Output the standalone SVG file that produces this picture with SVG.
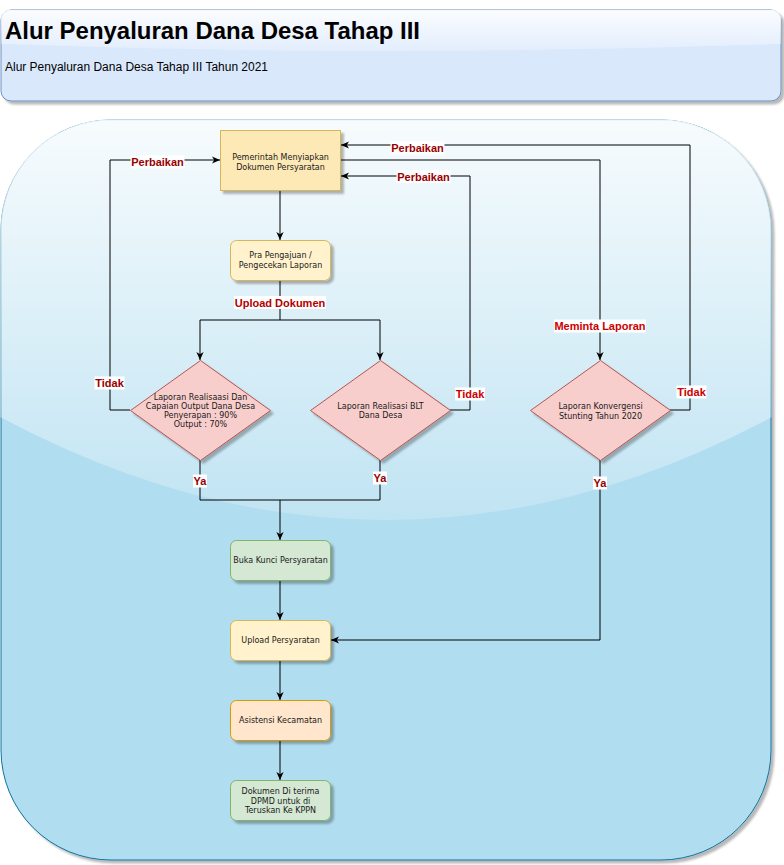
<svg xmlns="http://www.w3.org/2000/svg" width="784" height="865" viewBox="0 0 784 865">
  <defs>
    <filter id="shadow" x="-10%" y="-10%" width="130%" height="130%">
      <feDropShadow dx="3" dy="3" stdDeviation="1.2" flood-color="#000" flood-opacity="0.28"/>
    </filter>
    <linearGradient id="glassBig" x1="0" y1="120" x2="0" y2="520" gradientUnits="userSpaceOnUse">
      <stop offset="0" stop-color="#fff" stop-opacity="0.9"/>
      <stop offset="1" stop-color="#fff" stop-opacity="0.2"/>
    </linearGradient>
    <linearGradient id="glassHead" x1="0" y1="10" x2="0" y2="50" gradientUnits="userSpaceOnUse">
      <stop offset="0" stop-color="#fff" stop-opacity="0.9"/>
      <stop offset="1" stop-color="#fff" stop-opacity="0.25"/>
    </linearGradient>
    <clipPath id="clipBig">
      <rect x="0.5" y="119.5" width="771" height="741" rx="110.5"/>
    </clipPath>
    <clipPath id="clipHead">
      <rect x="0.5" y="9.5" width="781" height="92" rx="10.5"/>
    </clipPath>
    <marker id="arrow" viewBox="0 0 8 8" markerWidth="8" markerHeight="8" refX="8" refY="4" orient="auto" markerUnits="userSpaceOnUse">
      <path d="M0,0.4 L8,4 L0,7.6 L2.2,4 Z" fill="#000"/>
    </marker>
    <style>
      .node text { font-family: "DejaVu Sans", Verdana, sans-serif; font-size: 8px; fill: #1a1a1a; text-anchor: middle; }
      .yellow { fill: #fff2cc; stroke: #d6b656; stroke-width: 1; }
      .yellowDeep { fill: #fde9b6; stroke: #d6b656; stroke-width: 1; }
      .green { fill: #d5e8d4; stroke: #82b366; stroke-width: 1; }
      .orange { fill: #ffe6cc; stroke: #d79b00; stroke-width: 1; }
      .red { fill: #f8cecc; stroke: #b85450; stroke-width: 1; }
      .edge { fill: none; stroke: #000; stroke-width: 1; }
      .lbl rect { fill: #fff; }
      .lbl text { font-family: "Liberation Sans", Arial, sans-serif; font-size: 11px; font-weight: bold; text-anchor: middle; }
      .dark { fill: #990000; }
      .mid { fill: #b20000; }
      .bright { fill: #cc0000; }
    </style>
  </defs>

  <!-- page header -->
  <g id="header">
    <rect x="1" y="10" width="780" height="91" rx="10" fill="#dae8fc" stroke="#6c8ebf" filter="url(#shadow)"/>
    <path d="M1,10 H781 V44 Q391,58 1,44 Z" fill="url(#glassHead)" clip-path="url(#clipHead)"/>
    <text x="5" y="39" font-family="'Liberation Sans', Arial, sans-serif" font-size="24" font-weight="bold" fill="#000" textLength="415" lengthAdjust="spacingAndGlyphs">Alur Penyaluran Dana Desa Tahap III</text>
    <text x="5" y="71" font-family="'Liberation Sans', Arial, sans-serif" font-size="12" fill="#000" textLength="263" lengthAdjust="spacingAndGlyphs">Alur Penyaluran Dana Desa Tahap III Tahun 2021</text>
  </g>

  <!-- swimlane background -->
  <g id="container">
    <rect x="1" y="120" width="770" height="740" rx="110" fill="#b1ddf0" stroke="#10739e" filter="url(#shadow)"/>
    <path d="M0,110 H772 V417 Q386,623 0,417 Z" fill="url(#glassBig)" clip-path="url(#clipBig)"/>
  </g>

  <!-- connectors -->
  <g id="connectors">
    <path class="edge" d="M280,190 V240" marker-end="url(#arrow)"/>
    <path class="edge" d="M280,280 V320 H200 V360" marker-end="url(#arrow)"/>
    <path class="edge" d="M280,320 H380 V360" marker-end="url(#arrow)"/>
    <path class="edge" d="M130,410 H110 V160 H220" marker-end="url(#arrow)"/>
    <path class="edge" d="M450,410 H470 V176 H341" marker-end="url(#arrow)"/>
    <path class="edge" d="M341,160 H600 V360" marker-end="url(#arrow)"/>
    <path class="edge" d="M670,410 H690 V145 H341" marker-end="url(#arrow)"/>
    <path class="edge" d="M200,460 V500 H280 V540" marker-end="url(#arrow)"/>
    <path class="edge" d="M380,460 V500 H280"/>
    <path class="edge" d="M600,460 V640 H331" marker-end="url(#arrow)"/>
    <path class="edge" d="M280,580 V620" marker-end="url(#arrow)"/>
    <path class="edge" d="M280,660 V700" marker-end="url(#arrow)"/>
    <path class="edge" d="M280,740 V780" marker-end="url(#arrow)"/>

    <!-- connector labels -->
    <g class="lbl">
      <rect x="130.5" y="155.5" width="54" height="13"/>
      <text class="dark" x="157.5" y="166">Perbaikan</text>
      <rect x="94.5" y="376.5" width="30" height="13"/>
      <text class="dark" x="109.5" y="387">Tidak</text>
      <rect x="234" y="296" width="92" height="13"/>
      <text class="mid" x="280" y="306.5">Upload Dokumen</text>
      <rect x="396.5" y="170" width="54" height="13"/>
      <text class="dark" x="423.5" y="180.5">Perbaikan</text>
      <rect x="455" y="387.5" width="30" height="13"/>
      <text class="bright" x="470" y="398">Tidak</text>
      <rect x="390.5" y="141.5" width="54" height="13"/>
      <text class="dark" x="417.5" y="152">Perbaikan</text>
      <rect x="554" y="319.5" width="92" height="13"/>
      <text class="bright" x="600" y="330">Meminta Laporan</text>
      <rect x="676.5" y="385.5" width="30" height="13"/>
      <text class="bright" x="691.5" y="396">Tidak</text>
      <rect x="193" y="474.5" width="14" height="13"/>
      <text class="dark" x="200" y="485">Ya</text>
      <rect x="373" y="471.5" width="14" height="13"/>
      <text class="dark" x="380" y="482">Ya</text>
      <rect x="593" y="476.5" width="14" height="13"/>
      <text class="dark" x="600" y="487">Ya</text>
    </g>
  </g>

  <!-- process nodes -->
  <g id="pemerintah" class="node">
    <rect class="yellowDeep" x="220.5" y="130.5" width="120" height="60" filter="url(#shadow)"/>
    <text x="280.5" y="160">Pemerintah Menyiapkan</text>
    <text x="280.5" y="169.5">Dokumen Persyaratan</text>
  </g>

  <g id="pra-pengajuan" class="node">
    <rect class="yellow" x="230.5" y="240.5" width="100" height="40" rx="6" filter="url(#shadow)"/>
    <text x="280.5" y="258">Pra Pengajuan /</text>
    <text x="280.5" y="268">Pengecekan Laporan</text>
  </g>

  <g id="laporan-realisasi" class="node">
    <path class="red" d="M130.5,410.5 L200.5,360.5 L270.5,410.5 L200.5,460.5 Z" filter="url(#shadow)"/>
    <text x="200.5" y="399.5">Laporan Realisaasi Dan</text>
    <text x="200.5" y="408.5">Capaian Output Dana Desa</text>
    <text x="200.5" y="417.5">Penyerapan : 90%</text>
    <text x="200.5" y="426.5">Output : 70%</text>
  </g>

  <g id="laporan-blt" class="node">
    <path class="red" d="M310.5,410.5 L380.5,360.5 L450.5,410.5 L380.5,460.5 Z" filter="url(#shadow)"/>
    <text x="380.5" y="408.5">Laporan Realisasi BLT</text>
    <text x="380.5" y="418">Dana Desa</text>
  </g>

  <g id="laporan-stunting" class="node">
    <path class="red" d="M530.5,410.5 L600.5,360.5 L670.5,410.5 L600.5,460.5 Z" filter="url(#shadow)"/>
    <text x="600.5" y="409">Laporan Konvergensi</text>
    <text x="600.5" y="418.5">Stunting Tahun 2020</text>
  </g>

  <g id="buka-kunci" class="node">
    <rect class="green" x="230.5" y="540.5" width="100" height="40" rx="6" filter="url(#shadow)"/>
    <text x="280.5" y="563">Buka Kunci Persyaratan</text>
  </g>

  <g id="upload-persyaratan" class="node">
    <rect class="yellow" x="230.5" y="620.5" width="100" height="40" rx="6" filter="url(#shadow)"/>
    <text x="280.5" y="643">Upload Persyaratan</text>
  </g>

  <g id="asistensi" class="node">
    <rect class="orange" x="230.5" y="700.5" width="100" height="40" rx="6" filter="url(#shadow)"/>
    <text x="280.5" y="723">Asistensi Kecamatan</text>
  </g>

  <g id="dokumen-diterima" class="node">
    <rect class="green" x="230.5" y="780.5" width="100" height="40" rx="6" filter="url(#shadow)"/>
    <text x="280.5" y="794">Dokumen Di terima</text>
    <text x="280.5" y="803.5">DPMD untuk di</text>
    <text x="280.5" y="813">Teruskan Ke KPPN</text>
  </g>
</svg>
